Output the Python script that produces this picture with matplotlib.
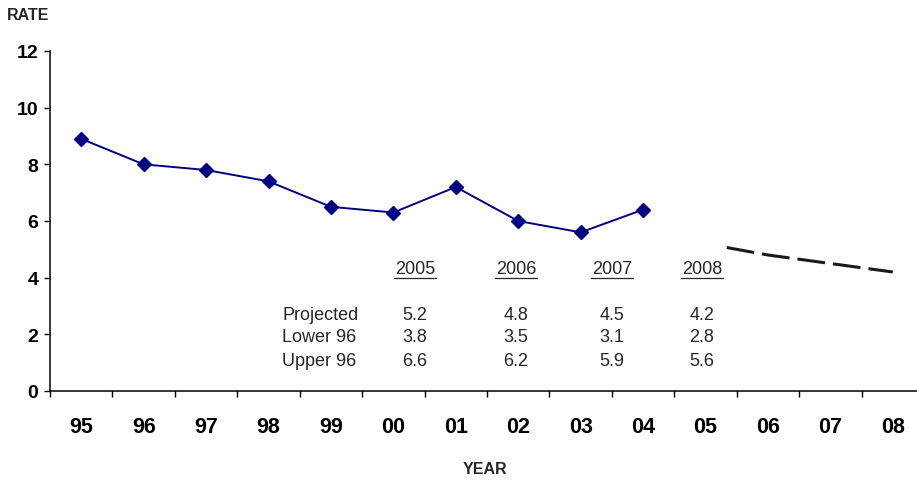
import matplotlib
matplotlib.use('Agg')
import matplotlib.pyplot as plt
import numpy as np

plt.rcParams['font.family'] = ['Liberation Sans', 'DejaVu Sans']
plt.rcParams['lines.scale_dashes'] = False

# data
years = ['95', '96', '97', '98', '99', '00', '01', '02', '03', '04', '05', '06', '07', '08']
rate = [8.9, 8.0, 7.8, 7.4, 6.5, 6.3, 7.2, 6.0, 5.6, 6.4]
proj_years = ['2005', '2006', '2007', '2008']
projected = [5.2, 4.8, 4.5, 4.2]
lower96 = [3.8, 3.5, 3.1, 2.8]
upper96 = [6.6, 6.2, 5.9, 5.6]

x_all = np.arange(len(years))
x_rate = x_all[:len(rate)]
x_proj = x_all[10:10 + len(projected)]

fig = plt.figure(figsize=(9.17, 4.85), dpi=100)
ax = fig.add_axes([50 / 917, 93 / 485, 874 / 917, 340 / 485])

ax.plot(x_rate, rate, color='#000080', lw=1.4, marker='D', ms=7.5, mfc='#000080', mec='#000080')

# projection line (the visible dashes start a third of the way past 05)
xs = np.linspace(10.34, x_proj[-1], 50)
ys = np.interp(xs, x_proj, projected)
ax.plot(xs, ys, color='#1a1a1a', lw=2.2, linestyle=(0, (20, 5.8)), dash_capstyle='butt')

ax.set_xlim(-0.5, 13.5)
ax.set_ylim(0, 12)
ax.set_yticks(np.arange(0, 13, 2))
ax.set_xticks(x_all)
ax.set_xticklabels(years)
ax.set_xticks(np.arange(-0.5, 14, 1), minor=True)
ax.tick_params(axis='x', which='major', length=0, pad=18, labelsize=15.5)
ax.tick_params(axis='x', which='minor', length=4.5, width=1, color='black')
ax.tick_params(axis='y', length=4.5, width=1, pad=4, labelsize=14)
for lbl in ax.get_xticklabels() + ax.get_yticklabels():
    lbl.set_fontweight('bold')
for s in ['top', 'right']:
    ax.spines[s].set_visible(False)
for s in ['left', 'bottom']:
    ax.spines[s].set_linewidth(1.1)

fig.text(7 / 917, 1 - 16 / 485, 'RATE', fontsize=11.5, fontweight='bold', color='#262626', va='center', ha='left')
fig.text(485 / 917, 1 - 470 / 485, 'YEAR', fontsize=11.5, fontweight='bold', color='#262626', va='center', ha='center')

# projection table
col_x = [415, 516, 612, 702]
row_y = [316, 338, 361]
row_names = ['Projected', 'Lower 96', 'Upper 96']
rows = [projected, lower96, upper96]
for cx, yr in zip(col_x, proj_years):
    fig.text(cx / 917, 1 - 270 / 485, yr, fontsize=13, color='#262626', ha='center', va='center')
    fig.lines.append(plt.Line2D([(cx - 21) / 917, (cx + 21) / 917], [1 - 279 / 485, 1 - 279 / 485],
                                transform=fig.transFigure, color='#262626', lw=0.9))
for ry, name, vals in zip(row_y, row_names, rows):
    fig.text(282 / 917, 1 - ry / 485, name, fontsize=13, color='#262626', ha='left', va='center')
    for cx, v in zip(col_x, vals):
        fig.text(cx / 917, 1 - ry / 485, f'{v:.1f}', fontsize=13, color='#262626', ha='center', va='center')

fig.savefig('out.png', dpi=100)
